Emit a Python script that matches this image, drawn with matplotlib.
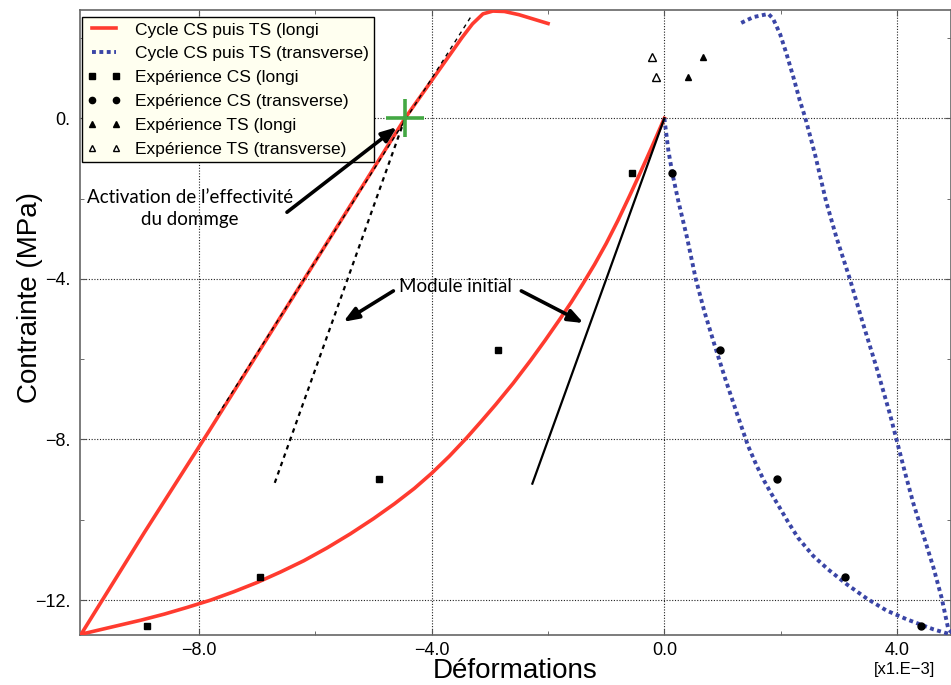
#!/usr/bin/env python3

import numpy as np
import matplotlib
matplotlib.use('Agg')
import matplotlib.pyplot as plt

# courbe longi : decharge CS puis charge TS (x en 1.E-3, y en MPa)
longi_eps = [0.0, -0.15, -0.30, -0.45, -0.60, -0.80, -1.0, -1.2, -1.4, -1.6, -1.8, -2.05,
             -2.3, -2.6, -2.9, -3.15, -3.4, -3.7, -4.0, -4.3, -4.64, -5.0, -5.4, -5.8,
             -6.2, -6.6, -7.0, -7.4, -7.8, -8.2, -8.6, -9.0, -9.5, -10.03,
             -8.94, -7.83, -4.46, -3.48, -3.30, -3.12, -2.95, -2.75, -2.5, -2.25, -2.0]
longi_sig = [0.0, -0.50, -0.99, -1.47, -1.94, -2.55, -3.12, -3.64, -4.12, -4.58, -5.01, -5.53,
             -6.03, -6.6, -7.13, -7.55, -7.96, -8.42, -8.84, -9.22, -9.6, -9.97, -10.35, -10.7,
             -11.02, -11.3, -11.56, -11.79, -12.0, -12.18, -12.35, -12.5, -12.67, -12.85,
             -10.31, -7.79, 0.0, 2.01, 2.35, 2.60, 2.67, 2.66, 2.58, 2.47, 2.36]

# courbe transverse
trans_eps = [0.0, 0.07, 0.14, 0.24, 0.39, 0.54, 0.69, 0.86, 1.05, 1.25, 1.44, 1.59, 1.72,
             1.84, 1.96, 2.13, 2.30, 2.56, 2.82, 3.14, 3.48, 3.82, 4.17, 4.63, 4.91, 5.02,
             4.88, 4.77, 4.63, 4.45, 4.28, 4.14, 4.0, 3.88, 3.65, 3.42, 3.19, 2.96, 2.78,
             2.60, 2.50, 2.42, 2.33, 2.22, 2.10, 1.99, 1.87, 1.79, 1.53, 1.30]
trans_sig = [0.0, -0.81, -1.39, -2.06, -2.97, -4.0, -4.82, -5.63, -6.5, -7.36, -8.16, -8.66, -9.04,
             -9.35, -9.64, -10.06, -10.45, -10.9, -11.24, -11.61, -11.96, -12.26, -12.48, -12.73,
             -12.85, -12.95,
             -12.7, -11.95, -11.2, -10.36, -9.58, -8.83, -8.04, -7.37, -6.21, -5.13, -4.0, -2.97,
             -2.06, -0.95, -0.40, 0.03, 0.44, 1.02, 1.61, 2.10, 2.48, 2.60, 2.52, 2.36]

# experiences
cs_longi_eps = [-8.9, -6.95, -4.91, -2.86, -0.55]
cs_trans_eps = [4.42, 3.10, 1.93, 0.95, 0.14]
cs_sig = [-12.64, -11.42, -8.98, -5.77, -1.37]
ts_longi_eps = [0.40, 0.67]
ts_longi_sig = [1.04, 1.52]
ts_trans_eps = [-0.14, -0.22]
ts_trans_sig = [1.02, 1.52]

# modules initiaux
module_eps = [0.0, -2.27]
module_sig = [0.0, -9.1]
module_dmg_eps = [-6.70, -4.46]
module_dmg_sig = [-9.08, 0.0]
pente_eps = [-7.68, -3.30]
pente_sig = [-7.39, 2.59]

activation = (-4.46, 0.0)

xticks = [-8.0, -4.0, 0.0, 4.0]
xlabels = ['\u22128.0', '\u22124.0', '0.0', '4.0']
yticks = [0.0, -4.0, -8.0, -12.0]
ylabels = ['0.', '\u22124.', '\u22128.', '\u221212.']


def main():
	plt.rcParams['font.family'] = ['Liberation Sans', 'DejaVu Sans']
	fig = plt.figure(figsize=(9.51, 6.85), dpi=100)
	ax = fig.add_axes([0.0841, 0.073, 0.9159, 0.912])

	red = '#ff3b2f'
	blue = '#3a45a6'
	ax.plot(longi_eps, longi_sig, color=red, lw=2.6, label='Cycle CS puis TS (longi', zorder=3)
	ax.plot(trans_eps, trans_sig, color=blue, lw=2.8, ls=(0, (1, 0.9)),
			label='Cycle CS puis TS (transverse)', zorder=3)
	ax.plot(cs_longi_eps, cs_sig, 's', color='k', ms=5, label='Exp\u00e9rience CS (longi', zorder=4)
	ax.plot(cs_trans_eps, cs_sig, 'o', color='k', ms=5, label='Exp\u00e9rience CS (transverse)', zorder=4)
	ax.plot(ts_longi_eps, ts_longi_sig, '^', color='k', ms=4.5, label='Exp\u00e9rience TS (longi', zorder=4)
	ax.plot(ts_trans_eps, ts_trans_sig, '^', mfc='white', mec='k', ms=5.5, mew=1,
			label='Exp\u00e9rience TS (transverse)', zorder=4)

	ax.plot(module_eps, module_sig, color='k', lw=1.6, zorder=4)
	ax.plot(module_dmg_eps, module_dmg_sig, color='k', lw=1.6, ls=(0, (2, 2)), zorder=4)
	ax.plot(pente_eps, pente_sig, color='k', lw=1.0, ls=(0, (3, 3)), zorder=4)
	ax.plot([activation[0]], [activation[1]], '+', color='#43a843', ms=27, mew=2.6, zorder=5)

	ax.set_xlim(-10.05, 4.93)
	ax.set_ylim(-12.87, 2.69)
	ax.set_xticks(xticks)
	ax.set_xticklabels(xlabels)
	ax.set_yticks(yticks)
	ax.set_yticklabels(ylabels)
	ax.set_xticks([-6.0, -2.0, 2.0], minor=True)
	ax.set_yticks([-2.0, -6.0, -10.0, 2.0], minor=True)
	ax.tick_params(which='both', direction='in', top=True, right=True, labelsize=13,
				   color='#555555', pad=7)
	ax.tick_params(axis='x', which='major', pad=5)
	ax.tick_params(which='major', length=4)
	ax.tick_params(which='minor', length=3)
	ax.grid(True, which='major', color='#222222', ls=(0, (1, 1.5)), lw=0.8)
	for s in ax.spines.values():
		s.set_color('#666666')
		s.set_linewidth(1.2)

	ax.set_xlabel('D\u00e9formations', fontsize=20, labelpad=-1)
	ax.set_ylabel('Contrainte (MPa)', fontsize=20)
	ax.yaxis.set_label_coords(-0.043, 0.54)
	fig.text(0.951, 0.022, '[x1.E\u22123]', fontsize=12, ha='center', va='center')

	leg = ax.legend(loc='upper left', bbox_to_anchor=(0.002, 0.989), borderaxespad=0,
					numpoints=2, fontsize=12.5, labelspacing=0.5, handlelength=2.0,
					handletextpad=0.75, borderpad=0.3, fancybox=False, framealpha=1,
					markerscale=0.9)
	leg.get_frame().set_facecolor('#fffff0')
	leg.get_frame().set_edgecolor('k')
	leg.get_frame().set_linewidth(1.0)

	afont = dict(family=['Lato', 'DejaVu Sans'], fontsize=13.5)
	arrow = dict(arrowstyle='-|>,head_length=0.9,head_width=0.35', color='k', lw=2.6,
				 shrinkA=0, shrinkB=0)
	ax.text(-8.16, -2.25, 'Activation de l\u2019effectivit\u00e9\ndu dommge', ha='center',
			va='center', linespacing=1.35, **afont)
	ax.annotate('', xy=(-4.60, -0.22), xytext=(-6.49, -2.34), arrowprops=arrow, zorder=6)
	ax.text(-3.60, -4.18, 'Module initial', ha='center', va='center', **afont)
	ax.annotate('', xy=(-5.52, -5.07), xytext=(-4.66, -4.30), arrowprops=arrow, zorder=6)
	ax.annotate('', xy=(-1.39, -5.10), xytext=(-2.46, -4.30), arrowprops=arrow, zorder=6)

	fig.savefig('out.png', dpi=100)

if __name__=="__main__":
	main()
